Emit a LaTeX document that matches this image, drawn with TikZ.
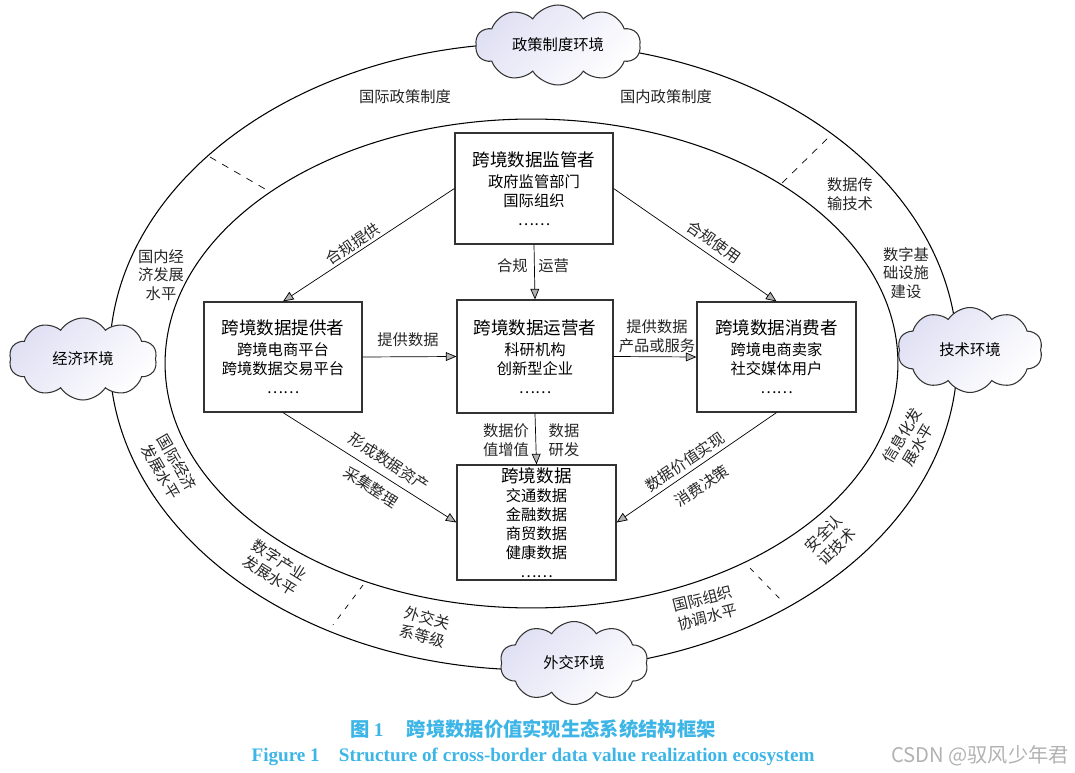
\documentclass[tikz,border=0pt]{standalone}
\usepackage{fontspec}
\setmainfont{Noto Sans CJK SC}
\newfontfamily\enserif{Liberation Serif}
\usetikzlibrary{arrows.meta,shapes.symbols}
\definecolor{capblue}{HTML}{3DB5E6}
\definecolor{cloudfill}{HTML}{E0E0F4}
\newcommand\btitle[1]{{\fontsize{10}{11}\selectfont #1}}

\begin{document}
\begin{tikzpicture}[x=0.02cm,y=-0.02cm,>={Triangle[length=6pt,width=5pt,fill=gray!60]},
    dbox/.style={draw=black!80,line width=0.7pt,minimum width=3.16cm,minimum height=2.22cm,align=center,
      font=\fontsize{8.7}{10.8}\selectfont,inner sep=1pt},
    cloudy/.style={cloud,cloud puffs=10,cloud puff arc=115,cloud ignores aspect,draw=black!80,line width=0.6pt,
      top color=cloudfill,bottom color=white,shading angle=45,font=\fontsize{8.7}{10}\selectfont},
    lbl/.style={font=\fontsize{8.7}{10.6}\selectfont,align=center,text=black!85,inner sep=1pt}]
  \useasboundingbox (0,0) rectangle (1075,773);
  \draw[line width=0.6pt] (533.5,356.5) ellipse (8.48cm and 6.27cm);
  \draw[line width=0.6pt] (531.5,363.5) ellipse (7.33cm and 4.89cm);
  \draw[dash pattern=on 4pt off 4pt] (210,157) -- (265,189);
  \draw[dash pattern=on 4pt off 4pt] (782,183) -- (828,138);
  \draw[dash pattern=on 3pt off 4pt] (363,585) -- (333,625);
  \draw[dash pattern=on 3pt off 4pt] (750,568) -- (783,602);
  \node[cloudy,minimum width=3.3cm,minimum height=1.6cm] (c1) at (558,45) {政策制度环境};
  \node[cloudy,minimum width=2.96cm,minimum height=1.64cm] (c2) at (83,359) {经济环境};
  \node[cloudy,minimum width=2.9cm,minimum height=1.7cm] (c3) at (970,350) {技术环境};
  \node[cloudy,minimum width=2.96cm,minimum height=1.66cm] (c4) at (574,663) {外交环境};
  \node[lbl] (t1) at (405,97) {国际政策制度};
  \node[lbl] (t2) at (666,97) {国内政策制度};
  \node[lbl] (t3) at (850,194) {数据传\\输技术};
  \node[lbl] (t4) at (906,273) {数字基\\础设施\\建设};
  \node[lbl] (t5) at (161,275) {国内经\\济发展\\水平};
  \node[lbl,rotate=-60] (t6) at (169,467) {国际经济\\发展水平};
  \node[lbl,rotate=-32] (t7) at (275,568) {数字产业\\发展水平};
  \node[lbl,rotate=-16] (t8) at (425,627) {外交关\\系等级};
  \node[lbl,rotate=14] (t9) at (705,608) {国际组织\\协调水平};
  \node[lbl,rotate=45] (t10) at (830,540) {安全认\\证技术};
  \node[lbl,rotate=59] (t11) at (910,440) {信息化发\\展水平};
  \node[dbox] (b1) at (534,188.5) {\btitle{跨境数据监管者}\\[1pt]政府监管部门\\国际组织\\……};
  \node[dbox,minimum height=2.2cm] (b2) at (283,357) {\btitle{跨境数据提供者}\\[1pt]跨境电商平台\\跨境数据交易平台\\……};
  \node[dbox,minimum width=3.12cm,minimum height=2.26cm] (b3) at (535,356.5) {\btitle{跨境数据运营者}\\[1pt]科研机构\\创新型企业\\……};
  \node[dbox,minimum width=3.18cm,minimum height=2.2cm] (b4) at (776.5,357) {\btitle{跨境数据消费者}\\[1pt]跨境电商卖家\\社交媒体用户\\……};
  \node[dbox,minimum width=3.18cm,minimum height=2.3cm] (b5) at (536.5,522.5) {\btitle{跨境数据}\\交通数据\\金融数据\\商贸数据\\健康数据\\……};
  \draw[->] (b1.west) -- (b2.north);
  \draw[->] (b1.east) -- (b4.north);
  \draw[->] (b1.south) -- (b3.north);
  \draw[->] (b2.east) -- (b3.west);
  \draw[->] (b3.east) -- (b4.west);
  \draw[->] (b3.south) -- (b5.north);
  \draw[->] (b2.south) -- (b5.west);
  \draw[->] (b4.south) -- (b5.east);
  \node[lbl,rotate=34] (a1) at (353,244) {合规提供};
  \node[lbl,rotate=-35] (a2) at (714,242) {合规使用};
  \node[lbl] (a3) at (533,266) {合规\hspace{0.7em}运营};
  \node[lbl] (a4) at (408,340) {提供数据};
  \node[lbl] (a5) at (657,336) {提供数据\\产品或服务};
  \node[lbl] (a6) at (506,440) {数据价\\值增值};
  \node[lbl] (a7) at (564,440) {数据\\研发};
  \node[lbl,rotate=-33] (a8) at (389,462) {形成数据资产};
  \node[lbl,rotate=-33] (a9) at (371,487) {采集整理};
  \node[lbl,rotate=34] (a10) at (685,462) {数据价值实现};
  \node[lbl,rotate=34] (a11) at (702,486) {消费决策};
  \node[text=capblue,font=\fontsize{11}{12}\selectfont\bfseries] (cap1) at (533,729) {图 {\enserif 1}\hspace{1.2em}跨境数据价值实现生态系统结构框架};
  \node[text=capblue,font=\enserif\fontsize{10.9}{12}\selectfont\bfseries] (cap2) at (533,757) {Figure 1\hspace{1em}Structure of cross-border data value realization ecosystem};
  \node[text=black!30,font=\fontsize{11.5}{13}\selectfont] (wm) at (980,756) {CSDN @驭风少年君};
\end{tikzpicture}
\end{document}
